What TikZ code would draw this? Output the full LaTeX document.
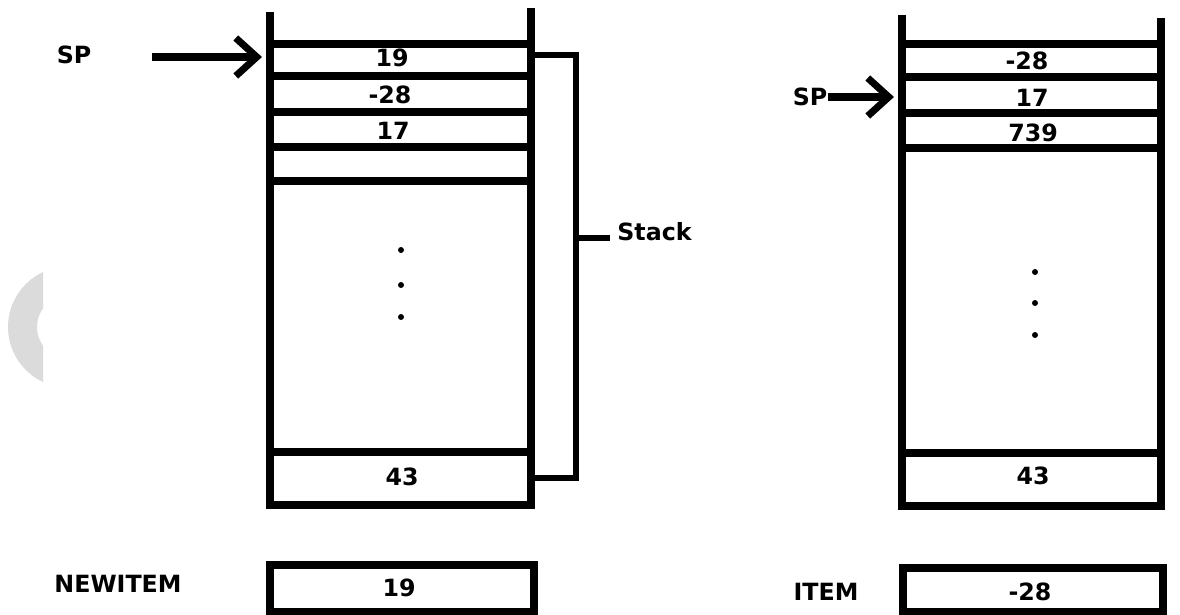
\documentclass[tikz,border=0pt]{standalone}
\usepackage{fontspec}
\setmainfont{DejaVu Sans}
\usetikzlibrary{arrows.meta}

\begin{document}
\begin{tikzpicture}[x=0.02cm, y=-0.02cm,
		wall/.style={line width=4pt},
		brace/.style={line width=3.4pt},
		ptr/.style={line width=4pt, -{Straight Barb[length=0.42cm, width=0.76cm]}},
		lbl/.style={font=\fontsize{13.5}{15}\selectfont\bfseries, inner sep=0pt}]
		\useasboundingbox (0, 0) rectangle (1180, 615);
		% faint mark at the left edge
		\begin{scope}
			\clip (0, 0) rectangle (43, 615);
			\fill [black!14, even odd rule] (68.7, 327) circle [radius=1.214cm] (68.7, 327) circle [radius=0.634cm];
		\end{scope}
		% left stack
		\draw [wall] (270, 12) -- (270, 505) -- (531, 505) -- (531, 8);
		\foreach \y in {44, 76, 112, 147, 181}
			\draw [wall] (267, \y) -- (534, \y);
		\draw [wall] (270, 452) -- (531, 452);
		\node [lbl] (a1) at (392, 58) {19};
		\node [lbl] (a2) at (390, 95) {-28};
		\node [lbl] (a3) at (393, 131) {17};
		\node [lbl] (a4) at (402, 477) {43};
		\foreach \y in {250, 285, 317}
			\fill (401, \y) circle [radius=0.06cm];
		% bracket
		\draw [brace] (531, 55) -- (576, 55) -- (576, 478) -- (531, 478);
		\draw [brace] (576, 238) -- (610, 238);
		\node [lbl, anchor=west] (stk) at (617, 232) {Stack};
		% stack pointer, left
		\node [lbl] (spA) at (74, 55) {SP};
		\coordinate (tailA) at (152, 57);
		\coordinate (tipA) at (262, 57);
		\draw [ptr] (tailA) -- (tipA);
		% newitem
		\node [lbl] (nA) at (118, 584) {NEWITEM};
		\draw [wall] (270, 565) rectangle (534, 612);
		\node [lbl] (vA) at (399, 588) {19};
		% right stack
		\draw [wall] (902, 15) -- (902, 506) -- (1161, 506) -- (1161, 18);
		\foreach \y in {44, 77, 113, 148}
			\draw [wall] (898, \y) -- (1163, \y);
		\draw [wall] (902, 453) -- (1161, 453);
		\node [lbl] (b1) at (1027, 61) {-28};
		\node [lbl] (b2) at (1032, 98) {17};
		\node [lbl] (b3) at (1033, 133) {739};
		\node [lbl] (b4) at (1033, 476) {43};
		\foreach \y in {272, 303, 335}
			\fill (1035, \y) circle [radius=0.06cm];
		% stack pointer, right
		\node [lbl] (spB) at (810, 97) {SP};
		\coordinate (tipB) at (894, 97);
		\draw [ptr] (spB.east) -- (tipB);
		% item
		\node [lbl] (nB) at (826, 592) {ITEM};
		\draw [wall] (903, 568) rectangle (1163, 612);
		\node [lbl] (vB) at (1030, 592) {-28};
	\end{tikzpicture}
\end{document}
